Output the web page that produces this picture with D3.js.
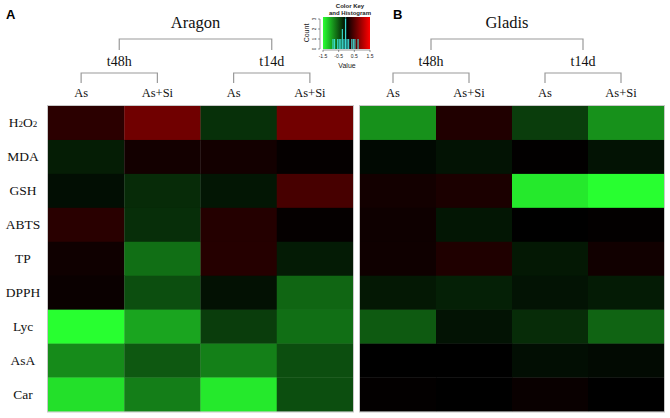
<!DOCTYPE html>
<html>
<head>
<meta charset="utf-8">
<script src="https://cdn.jsdelivr.net/npm/d3@7"></script>
<style>
  html, body { margin: 0; padding: 0; background: #fff; }
  svg { display: block; }
</style>
</head>
<body>
<svg id="chart" width="670" height="418"></svg>
<script>
// ---------------- data ----------------
const rows = ["H2O2", "MDA", "GSH", "ABTS", "TP", "DPPH", "Lyc", "AsA", "Car"];
const treatments = ["As", "As+Si", "As", "As+Si"];
const times = ["t48h", "t14d"];
const cultivars = ["Aragon", "Gladis"];
const panelLetters = ["A", "B"];

// rows x [t48h As, t48h As+Si, t14d As, t14d As+Si]
const aragon = [
  [0.25, 0.66, -0.28, 0.67],
  [-0.17, 0.11, 0.11, 0.03],
  [-0.08, -0.25, -0.13, 0.42],
  [0.24, -0.27, 0.21, 0.03],
  [0.09, -0.65, 0.22, -0.16],
  [0.06, -0.46, -0.10, -0.60],
  [-1.50, -0.97, -0.36, -0.65],
  [-0.82, -0.52, -0.75, -0.46],
  [-1.32, -0.74, -1.37, -0.46]
];
const gladis = [
  [-0.85, 0.19, -0.36, -0.85],
  [-0.05, -0.11, 0.01, -0.11],
  [0.11, 0.16, -1.37, -1.50],
  [0.08, -0.13, 0.00, 0.02],
  [0.09, 0.18, -0.14, 0.10],
  [-0.14, -0.19, -0.11, -0.16],
  [-0.53, -0.11, -0.26, -0.59],
  [0.00, 0.00, -0.08, -0.06],
  [0.02, 0.00, 0.05, 0.00]
];

const keyTicks = [-1.5, -0.5, 0.5, 1.5];
const countTicks = [0, 1, 2, 3];
// histogram counts for bins of width 0.1 from -1.5 to 1.5
const histCounts = [0,0,0,0,0,0,1,1,0,1,1,1,2,1,3,1,1,0,1,1,1,0,1,0,0,0,0,0,0,0];

// ---------------- drawing ----------------
const svg = d3.select("#chart");
const serif = "'Liberation Serif', 'Times New Roman', serif";
const sans = "'Liberation Sans', Arial, sans-serif";

const color = d3.scaleLinear()
  .domain([-1.5, 0, 1.5])
  .range(["#28ff30", "#000000", "#ff0000"])
  .clamp(true);

const yTop = 106, yBottom = 411.5;
const y = d3.scaleBand().domain(rows).range([yTop, yBottom]).padding(0);

const panels = [
  { name: cultivars[0], letter: panelLetters[0], data: aragon, x0: 48, x1: 353, letterX: 6 },
  { name: cultivars[1], letter: panelLetters[1], data: gladis, x0: 360, x1: 664, letterX: 393 }
];

// row labels (left only)
const rl = svg.append("g");
rows.forEach(r => {
  const t = rl.append("text")
    .attr("x", 23)
    .attr("y", y(r) + y.bandwidth() / 2 + 4.5)
    .attr("text-anchor", "middle")
    .attr("font-family", serif)
    .attr("font-size", 13.5)
    .attr("fill", "#111");
  if (r === "H2O2") {
    t.append("tspan").text("H");
    t.append("tspan").text("2").attr("font-size", 9);
    t.append("tspan").text("O");
    t.append("tspan").text("2").attr("font-size", 9);
  } else {
    t.text(r);
  }
});

const bracketColor = "#9a9a9a";

panels.forEach(p => {
  const cols = d3.range(treatments.length);
  const x = d3.scaleBand().domain(cols).range([p.x0, p.x1]).padding(0);
  const g = svg.append("g");

  // cells
  p.data.forEach((row, ri) => {
    row.forEach((v, ci) => {
      g.append("rect")
        .attr("x", x(ci))
        .attr("y", y(rows[ri]))
        .attr("width", x.bandwidth() + 0.3)
        .attr("height", y.bandwidth() + 0.3)
        .attr("fill", color(v));
    });
  });
  // frame
  g.append("rect")
    .attr("x", p.x0 - 0.5).attr("y", yTop - 0.5)
    .attr("width", p.x1 - p.x0 + 1).attr("height", yBottom - yTop + 1)
    .attr("fill", "none").attr("stroke", "#c8c8c8").attr("stroke-width", 1);

  // treatment label positions
  const lx = ci => x(ci) + x.bandwidth() / 2 - 5;

  // treatment labels
  cols.forEach(ci => {
    g.append("text")
      .attr("x", lx(ci)).attr("y", 97)
      .attr("text-anchor", "middle")
      .attr("font-family", serif).attr("font-size", 12.5)
      .attr("fill", "#111")
      .text(treatments[ci]);
  });

  // sub brackets + time labels
  const mids = [];
  times.forEach((tm, ti) => {
    const a = lx(ti * 2), b = lx(ti * 2 + 1);
    const m = (a + b) / 2;
    mids.push(m);
    g.append("path")
      .attr("d", `M${a},83V73H${b}V83`)
      .attr("fill", "none").attr("stroke", bracketColor).attr("stroke-width", 1.2);
    g.append("text")
      .attr("x", m).attr("y", 66)
      .attr("text-anchor", "middle")
      .attr("font-family", serif).attr("font-size", 14)
      .attr("fill", "#111")
      .text(tm);
  });

  // top bracket
  g.append("path")
    .attr("d", `M${mids[0]},50V39H${mids[1]}V50`)
    .attr("fill", "none").attr("stroke", bracketColor).attr("stroke-width", 1.2);
  g.append("text")
    .attr("x", (mids[0] + mids[1]) / 2).attr("y", 28)
    .attr("text-anchor", "middle")
    .attr("font-family", serif).attr("font-size", 16.5)
    .attr("fill", "#111")
    .text(p.name);

  // panel letter
  svg.append("text")
    .attr("x", p.letterX).attr("y", 18.5)
    .attr("font-family", sans).attr("font-weight", "bold").attr("font-size", 13)
    .attr("fill", "#000")
    .text(p.letter);
});

// ---------------- color key ----------------
const key = svg.append("g");
const kx = d3.scaleLinear().domain([-1.5, 1.5]).range([323, 370]);
const ky = d3.scaleLinear().domain([0, 3]).range([49, 19]);
const kTop = 17, kBottom = 49;

const defs = svg.append("defs");
const grad = defs.append("linearGradient").attr("id", "kg").attr("x1", "0%").attr("x2", "100%");
d3.range(0, 1.0001, 0.1).forEach(t => {
  grad.append("stop").attr("offset", (t * 100) + "%").attr("stop-color", color(-1.5 + 3 * t));
});
key.append("rect")
  .attr("x", kx(-1.5)).attr("y", kTop)
  .attr("width", kx(1.5) - kx(-1.5)).attr("height", kBottom - kTop)
  .attr("fill", "url(#kg)");

// histogram
const binW = 0.1;
histCounts.forEach((c, i) => {
  if (c <= 0) return;
  const v0 = -1.5 + i * binW;
  key.append("rect")
    .attr("x", kx(v0)).attr("y", ky(c))
    .attr("width", kx(v0 + binW) - kx(v0) - 0.4)
    .attr("height", ky(0) - ky(c))
    .attr("fill", "#3fe6df").attr("opacity", 0.9);
});
// trace line at centre
key.append("line")
  .attr("x1", kx(-0.05)).attr("x2", kx(-0.05)).attr("y1", kTop).attr("y2", kBottom)
  .attr("stroke", "#3fe6df").attr("stroke-width", 0.8).attr("opacity", 0.8);

// x axis of key
const kxAxis = key.append("g").attr("transform", `translate(0,${kBottom + 1})`);
kxAxis.append("line").attr("x1", kx(-1.5)).attr("x2", kx(1.5)).attr("y1", 0).attr("y2", 0)
  .attr("stroke", "#333").attr("stroke-width", 0.5);
keyTicks.forEach(t => {
  kxAxis.append("line").attr("x1", kx(t)).attr("x2", kx(t)).attr("y1", 0).attr("y2", 2)
    .attr("stroke", "#333").attr("stroke-width", 0.5);
  kxAxis.append("text").attr("x", kx(t)).attr("y", 8)
    .attr("text-anchor", "middle").attr("font-family", sans).attr("font-size", 5)
    .attr("fill", "#222").text(t);
});
key.append("text").attr("x", 347).attr("y", 67.5)
  .attr("text-anchor", "middle").attr("font-family", sans).attr("font-size", 7)
  .attr("fill", "#222").text("Value");

// y axis of key
const kyAxis = key.append("g").attr("transform", `translate(320,0)`);
kyAxis.append("line").attr("x1", 0).attr("x2", 0).attr("y1", ky(0)).attr("y2", ky(3))
  .attr("stroke", "#333").attr("stroke-width", 0.5);
countTicks.forEach(t => {
  kyAxis.append("line").attr("x1", 0).attr("x2", -2).attr("y1", ky(t)).attr("y2", ky(t))
    .attr("stroke", "#333").attr("stroke-width", 0.5);
  kyAxis.append("text")
    .attr("transform", `translate(-4,${ky(t)}) rotate(-90)`)
    .attr("text-anchor", "middle").attr("font-family", sans).attr("font-size", 4.5)
    .attr("fill", "#222").text(t);
});
key.append("text")
  .attr("transform", `translate(309,33) rotate(-90)`)
  .attr("text-anchor", "middle").attr("font-family", sans).attr("font-size", 7)
  .attr("fill", "#222").text("Count");

key.append("text").attr("x", 350).attr("y", 7.5)
  .attr("text-anchor", "middle").attr("font-family", sans).attr("font-weight", "bold")
  .attr("font-size", 6).attr("fill", "#222").text("Color Key");
key.append("text").attr("x", 350).attr("y", 15)
  .attr("text-anchor", "middle").attr("font-family", sans).attr("font-weight", "bold")
  .attr("font-size", 6).attr("fill", "#222").text("and Histogram");
</script>
</body>
</html>
